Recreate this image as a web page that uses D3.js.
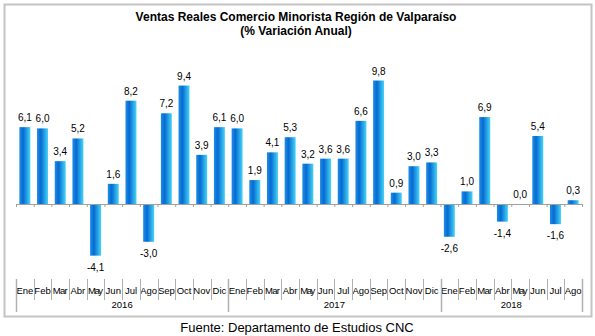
<!DOCTYPE html>
<html>
<head>
<meta charset="utf-8">
<script src="https://cdn.jsdelivr.net/npm/d3@7"></script>
<style>
  body { margin: 0; background: #fff; }
  text { font-family: Arial, "Liberation Sans", sans-serif; }
</style>
</head>
<body>
<div id="chart"></div>
<script>
// Data
const months = ["Ene", "Feb", "Mar", "Abr", "May", "Jun", "Jul", "Ago", "Sep", "Oct", "Nov", "Dic"];
const years = ["2016", "2017", "2018"];
const monthsPerYear = [12, 12, 8];
const values = [
  6.1, 6.0, 3.4, 5.2, -4.1, 1.6, 8.2, -3.0, 7.2, 9.4, 3.9, 6.1,
  6.0, 1.9, 4.1, 5.3, 3.2, 3.6, 3.6, 6.6, 9.8, 0.9, 3.0, 3.3,
  -2.6, 1.0, 6.9, -1.4, 0.0, 5.4, -1.6, 0.3
];
const titleLines = ["Ventas Reales Comercio Minorista Región de Valparaíso", "(% Variación Anual)"];
const source = "Fuente: Departamento de Estudios CNC";

// build category list
let cats = [];
years.forEach((y, yi) => {
  for (let m = 0; m < monthsPerYear[yi]; m++) cats.push({ year: y, month: months[m] });
});
cats.forEach((c, i) => { c.i = i; c.value = values[i]; });

const width = 595, height = 336;
const plot = { left: 16, right: 582 };

const svg = d3.select("#chart").append("svg")
  .attr("width", width)
  .attr("height", height);

// gradient for bars
const grad = svg.append("defs").append("linearGradient")
  .attr("id", "barGrad").attr("x1", "0%").attr("x2", "100%").attr("y1", "0%").attr("y2", "0%");
grad.append("stop").attr("offset", "0%").attr("stop-color", "#1f8ee6");
grad.append("stop").attr("offset", "35%").attr("stop-color", "#066ad2");
grad.append("stop").attr("offset", "100%").attr("stop-color", "#45d4f7");

// frame
svg.append("rect")
  .attr("x", 4.5).attr("y", 4.5)
  .attr("width", 587).attr("height", 312)
  .attr("fill", "#fff")
  .attr("stroke", "#c4c4c4")
  .attr("stroke-width", 2);

// title
svg.selectAll(".title").data(titleLines).enter().append("text")
  .attr("class", "title")
  .attr("x", 296)
  .attr("y", (d, i) => 21 + i * 14)
  .attr("text-anchor", "middle")
  .attr("font-size", "12px")
  .attr("font-weight", "bold")
  .text(d => d);

// scales
const x = d3.scaleBand()
  .domain(cats.map(d => d.i))
  .range([plot.left, plot.right])
  .paddingInner(0.38)
  .paddingOuter(0.19);

const edge = d3.scaleLinear().domain([0, cats.length]).range([plot.left, plot.right]);

const y = d3.scaleLinear()
  .domain([-6, 12])
  .range([279.6, 52.8]);

// bars
svg.selectAll(".bar").data(cats).enter().append("rect")
  .attr("class", "bar")
  .attr("x", d => x(d.i))
  .attr("width", x.bandwidth())
  .attr("y", d => y(Math.max(0, d.value)))
  .attr("height", d => Math.abs(y(d.value) - y(0)))
  .attr("fill", "url(#barGrad)");

// zero axis line with ticks
const axis = d3.axisBottom(edge)
  .tickValues(d3.range(0, cats.length + 1))
  .tickSize(3)
  .tickFormat("");
const axisG = svg.append("g")
  .attr("transform", `translate(0,${y(0)})`)
  .call(axis);
axisG.selectAll("path, line").attr("stroke", "#a0a0a0");

// value labels (comma decimal, plain hyphen for negatives)
svg.selectAll(".val").data(cats).enter().append("text")
  .attr("class", "val")
  .attr("x", d => x(d.i) + x.bandwidth() / 2)
  .attr("y", d => d.value >= 0 ? y(d.value) - 6 : y(d.value) + 15)
  .attr("text-anchor", "middle")
  .attr("font-size", "10px")
  .text(d => d.value.toFixed(1).replace(".", ","));

// category axis: month labels
const labTop = 279, monthBottom = 300, yearBottom = 312;
svg.selectAll(".month").data(cats).enter().append("text")
  .attr("class", "month")
  .attr("x", d => edge(d.i + 0.5))
  .attr("y", 294)
  .attr("text-anchor", "middle")
  .attr("font-size", "9.5px")
  .attr("textLength", d => d.month === "May" || d.month === "Mar" ? 15 : null)
  .text(d => d.month);

// separators
const sepG = svg.append("g").attr("stroke", "#b0b0b0").attr("stroke-width", 1);
d3.range(0, cats.length + 1).forEach(i => {
  let isYear = false, acc = 0;
  monthsPerYear.forEach(n => { if (i === acc) isYear = true; acc += n; });
  if (i === cats.length) isYear = true;
  sepG.append("line")
    .attr("x1", Math.round(edge(i)) + 0.5).attr("x2", Math.round(edge(i)) + 0.5)
    .attr("y1", labTop).attr("y2", isYear ? yearBottom : monthBottom)
    .attr("stroke-width", isYear ? 1.5 : 1);
});

// year labels
let start = 0;
years.forEach((yr, yi) => {
  svg.append("text")
    .attr("x", edge(start + monthsPerYear[yi] / 2))
    .attr("y", 308)
    .attr("text-anchor", "middle")
    .attr("font-size", "9.5px")
    .text(yr);
  start += monthsPerYear[yi];
});

// source
svg.append("text")
  .attr("x", 297)
  .attr("y", 332)
  .attr("text-anchor", "middle")
  .attr("font-size", "13px")
  .text(source);
</script>
</body>
</html>
